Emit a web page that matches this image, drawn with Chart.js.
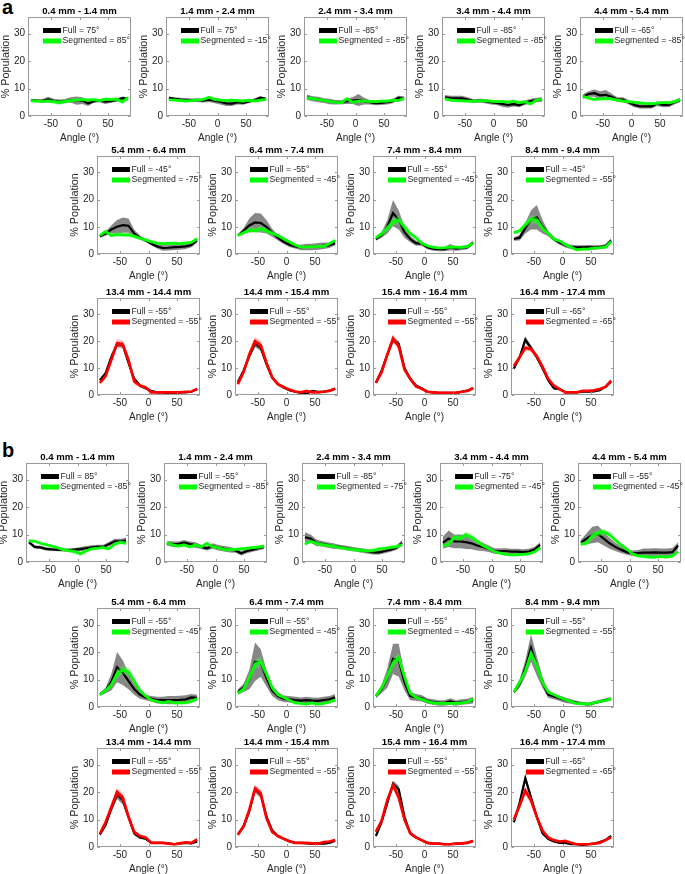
<!DOCTYPE html>
<html><head><meta charset="utf-8">
<script src="https://cdn.jsdelivr.net/npm/chart.js@4.4.0/dist/chart.umd.min.js"></script>
<style>
html,body{margin:0;padding:0;background:#fff;width:685px;height:874px;overflow:hidden;position:relative}
canvas{position:absolute}
.lab{position:absolute;font:bold 20px "Liberation Sans",Arial,sans-serif;color:#000;line-height:20px}
</style></head><body>
<div class="lab" style="left:2px;top:-3px">a</div>
<div class="lab" style="left:2px;top:440px">b</div>
<script>
// ---------- shared axes ----------
const angles = [-85,-75,-65,-55,-45,-35,-25,-15,-5,5,15,25,35,45,55,65,75,85];
const xTickValues = [-50,0,50];
const yTickValues = [0,10,20,30];
const depthTitles = ['0.4 mm - 1.4 mm','1.4 mm - 2.4 mm','2.4 mm - 3.4 mm','3.4 mm - 4.4 mm','4.4 mm - 5.4 mm',
  '5.4 mm - 6.4 mm','6.4 mm - 7.4 mm','7.4 mm - 8.4 mm','8.4 mm - 9.4 mm',
  '13.4 mm - 14.4 mm','14.4 mm - 15.4 mm','15.4 mm - 16.4 mm','16.4 mm - 17.4 mm'];

// ---------- legend peak angles ----------
const aFullPeak = [75,75,-85,-85,-65,-45,-55,-55,-45,-55,-55,-55,-65];
const aSegPeak  = [85,-15,-85,-85,-85,-75,-45,-45,-55,-55,-55,-55,-65];
const bFullPeak = [85,-55,-85,-75,-55,-55,-55,-55,-55,-55,-55,-55,-65];
const bSegPeak  = [-85,-85,-75,-45,-45,-45,-45,-45,-55,-55,-55,-55,-65];

// ---------- panel a data (mean and spread, % population) ----------
const a01_full   = [5.8,5.6,5.5,6.0,5.5,5.2,5.4,5.8,5.6,5.6,4.6,5.4,5.6,5.2,5.4,5.8,6.5,6.2];
const a01_fullSd = [0.5,0.5,0.6,1.0,0.8,0.8,0.8,1.0,1.5,1.2,1.0,0.6,0.6,0.8,0.6,0.6,0.6,0.6];
const a01_seg    = [5.6,5.4,5.3,5.4,5.2,4.9,5.3,5.6,5.8,6.0,5.8,6.0,5.6,6.1,6.0,6.1,5.1,6.7];
const a01_segSd  = [0.6,0.5,0.5,0.6,0.8,0.9,0.7,0.6,0.7,0.7,0.6,0.6,0.6,0.6,0.6,0.6,0.6,0.7];

const a02_full   = [6.6,6.2,6.0,5.9,5.8,5.8,5.6,5.9,5.6,5.2,4.6,4.5,5.0,4.8,5.3,5.8,6.7,6.2];
const a02_fullSd = [0.5,0.6,0.6,0.6,0.6,0.7,0.7,0.8,1.0,1.0,1.0,0.9,0.8,0.7,0.6,0.6,0.5,0.5];
const a02_seg    = [5.9,5.8,5.6,5.4,5.6,5.8,6.0,6.8,6.0,5.8,5.6,5.8,5.6,5.4,5.8,5.4,5.8,6.0];
const a02_segSd  = [0.5,0.5,0.5,0.5,0.5,0.5,0.5,0.5,0.5,0.5,0.5,0.5,0.5,0.5,0.5,0.5,0.5,0.5];

const a03_full   = [6.8,6.3,6.0,5.6,5.3,5.0,5.0,5.4,5.6,5.8,5.4,5.0,4.7,4.8,5.0,5.4,6.6,6.4];
const a03_fullSd = [1.0,0.9,1.0,0.9,1.0,0.8,0.7,1.0,1.2,2.2,1.2,0.8,0.8,0.8,0.8,0.8,0.8,0.8];
const a03_seg    = [6.6,6.3,6.0,5.6,5.3,5.0,4.8,6.3,5.0,5.4,5.4,5.3,5.2,5.4,5.4,5.8,5.6,6.5];
const a03_segSd  = [0.5,0.5,0.5,0.5,0.5,0.5,0.5,0.5,0.5,0.5,0.5,0.5,0.5,0.5,0.5,0.5,0.5,0.5];

const a04_full   = [6.8,6.5,6.4,6.4,6.0,5.4,5.6,5.4,5.0,4.8,4.4,4.0,4.3,4.0,4.8,5.4,5.8,6.0];
const a04_fullSd = [0.8,0.9,1.0,1.0,0.8,0.7,0.7,0.8,0.8,0.8,1.0,1.0,0.8,0.8,0.8,0.9,0.8,0.8];
const a04_seg    = [6.2,5.8,5.6,5.5,5.4,5.3,5.5,5.6,5.4,5.2,5.3,5.0,5.4,4.9,5.2,4.4,5.8,6.1];
const a04_segSd  = [0.5,0.5,0.5,0.5,0.5,0.5,0.5,0.5,0.5,0.5,0.5,0.5,0.5,0.5,0.5,0.5,0.5,0.5];

const a05_full   = [7.0,8.0,8.3,7.5,7.7,7.0,6.0,6.0,5.0,4.0,3.5,3.5,3.5,4.5,4.0,4.0,5.0,5.8];
const a05_fullSd = [0.8,1.0,1.3,1.5,1.8,1.2,0.8,0.8,0.8,0.8,0.8,0.8,0.8,0.9,0.8,0.8,0.8,0.8];
const a05_seg    = [7.2,6.5,6.0,6.2,6.3,6.2,5.8,5.4,5.2,5.0,4.8,4.6,4.5,4.6,5.0,4.8,5.2,6.0];
const a05_segSd  = [0.5,0.5,0.5,0.5,0.5,0.5,0.5,0.5,0.5,0.5,0.5,0.5,0.5,0.5,0.5,0.5,0.5,0.5];

const a06_full   = [6.5,7.5,9.0,10.0,10.6,10.4,7.5,6.0,5.0,3.8,2.8,2.2,2.3,2.5,2.6,2.8,3.3,5.0];
const a06_fullSd = [0.6,0.8,1.5,2.5,2.8,2.6,1.5,0.8,0.6,0.6,0.8,1.0,1.0,1.0,1.0,1.0,0.8,0.8];
const a06_seg    = [6.8,8.3,6.8,7.2,7.0,7.0,6.5,5.8,5.2,4.5,4.0,3.8,3.9,4.0,3.8,4.0,4.3,5.6];
const a06_segSd  = [0.5,0.5,0.6,0.8,0.8,0.8,0.8,0.6,0.5,0.5,0.5,0.5,0.5,0.5,0.5,0.5,0.5,0.6];

const a07_full   = [6.8,8.5,10.5,11.6,11.4,10.0,7.8,6.0,4.5,3.4,2.8,2.4,2.6,2.6,2.8,3.0,3.2,4.0];
const a07_fullSd = [0.5,1.0,2.5,3.5,3.5,2.5,1.5,1.0,0.8,0.8,0.8,1.0,1.2,1.2,1.2,1.2,1.0,0.8];
const a07_seg    = [6.8,7.8,8.8,8.6,9.2,8.5,7.6,6.8,5.6,4.5,3.3,2.5,2.6,2.6,2.8,2.8,3.8,5.0];
const a07_segSd  = [0.5,0.6,1.0,1.0,1.0,1.0,0.8,0.6,0.5,0.5,0.5,0.5,0.5,0.5,0.5,0.5,0.5,0.6];

const a08_full   = [5.5,7.0,10.0,15.0,12.5,8.0,5.5,4.0,3.8,2.5,2.0,1.8,1.8,2.5,2.0,2.2,2.5,4.2];
const a08_fullSd = [0.6,1.0,2.5,4.8,3.5,2.0,1.2,1.0,0.8,0.8,0.8,0.8,0.8,1.2,0.8,0.8,0.8,0.8];
const a08_seg    = [6.0,7.5,9.5,11.8,12.5,10.0,7.5,6.0,4.0,3.0,2.5,2.2,2.3,2.6,2.5,2.4,2.8,4.0];
const a08_segSd  = [0.6,0.8,1.0,1.5,1.5,1.0,0.8,0.6,0.5,0.5,0.5,0.5,0.5,0.5,0.5,0.5,0.5,0.6];

const a09_full   = [5.5,6.0,9.5,12.5,13.5,10.0,7.5,5.5,4.2,3.2,2.6,2.4,2.4,2.5,2.4,2.5,2.8,5.0];
const a09_fullSd = [0.6,1.0,2.0,3.5,4.5,2.5,1.0,0.8,0.8,0.8,0.8,0.8,0.8,0.8,0.8,0.8,0.8,0.8];
const a09_seg    = [7.8,8.5,10.8,12.8,12.4,9.5,7.5,5.5,4.8,3.5,2.5,1.5,1.8,1.8,2.2,2.3,2.5,4.5];
const a09_segSd  = [0.6,0.8,1.0,1.5,1.5,1.0,0.6,0.5,0.5,0.5,0.5,0.5,0.5,0.5,0.5,0.5,0.5,0.6];

const a10_full   = [5.5,8.0,14.0,18.8,18.6,12.0,6.0,3.5,2.5,1.5,1.0,1.0,0.6,0.5,1.0,1.0,1.2,2.2];
const a10_fullSd = [0.5,0.8,1.2,1.0,1.0,1.2,0.8,0.6,0.5,0.4,0.3,0.3,0.3,0.3,0.3,0.3,0.3,0.4];
const a10_seg    = [4.5,7.0,13.0,19.2,18.8,13.0,5.0,3.5,2.8,1.0,1.0,1.0,1.0,1.0,1.0,1.2,1.3,2.2];
const a10_segSd  = [0.5,0.8,1.0,1.5,1.5,1.5,1.0,0.6,0.5,0.3,0.3,0.3,0.3,0.3,0.3,0.3,0.3,0.4];

const a11_full   = [4.8,9.0,14.5,19.0,17.5,11.5,6.5,4.0,2.8,1.8,1.2,0.8,0.5,1.5,1.2,1.3,1.6,2.4];
const a11_fullSd = [0.5,0.8,1.2,1.2,1.2,1.0,0.6,0.5,0.4,0.3,0.3,0.3,0.3,0.3,0.3,0.3,0.3,0.4];
const a11_seg    = [4.0,8.5,15.0,20.0,18.5,12.0,6.5,4.0,3.0,2.0,1.3,1.0,1.5,1.0,1.0,1.2,1.5,2.3];
const a11_segSd  = [0.5,0.8,1.2,1.5,1.5,1.0,0.6,0.5,0.4,0.3,0.3,0.3,0.3,0.3,0.3,0.3,0.3,0.4];

const a12_full   = [4.5,9.0,15.0,20.5,19.0,10.0,6.0,3.5,2.5,1.2,1.0,0.8,0.8,0.8,0.8,1.2,1.6,2.6];
const a12_fullSd = [0.4,0.6,1.0,1.0,1.0,0.8,0.6,0.5,0.4,0.3,0.3,0.3,0.3,0.3,0.3,0.3,0.3,0.4];
const a12_seg    = [4.5,8.5,15.0,21.0,18.0,9.5,6.0,3.2,2.3,1.2,1.0,0.8,0.8,0.8,0.8,1.2,1.5,2.5];
const a12_segSd  = [0.4,0.6,1.0,1.5,1.2,1.0,0.6,0.5,0.4,0.3,0.3,0.3,0.3,0.3,0.3,0.3,0.3,0.4];

const a13_full   = [9.8,14.0,20.5,17.5,14.0,10.0,5.5,2.5,2.2,1.0,1.0,1.0,1.2,1.2,1.3,1.8,3.0,5.0];
const a13_fullSd = [0.6,0.8,1.2,1.0,0.8,0.8,0.6,0.5,0.4,0.3,0.3,0.3,0.3,0.3,0.3,0.3,0.4,0.5];
const a13_seg    = [10.8,14.0,17.5,17.0,14.5,10.5,6.0,3.5,2.2,1.0,1.0,1.0,1.5,1.5,1.7,2.2,3.0,5.3];
const a13_segSd  = [0.6,0.8,1.0,1.0,1.0,0.8,0.6,0.5,0.4,0.3,0.3,0.3,0.3,0.3,0.3,0.3,0.4,0.5];

// ---------- panel b data ----------
const b01_full   = [7.2,5.5,5.3,4.8,4.6,4.5,4.4,4.3,4.5,4.7,5.0,5.3,5.5,5.5,6.5,7.5,7.5,7.8];
const b01_fullSd = [0.6,0.6,0.6,0.6,0.6,0.6,0.6,0.6,0.6,0.8,0.8,0.8,0.8,0.8,0.8,1.0,1.0,1.0];
const b01_seg    = [7.7,7.6,6.8,6.3,5.8,5.2,4.5,4.1,3.8,3.0,4.0,4.8,5.0,5.2,4.8,6.5,7.2,6.8];
const b01_segSd  = [0.5,0.5,0.5,0.5,0.5,0.5,0.6,0.6,0.8,0.8,0.6,0.5,0.5,0.5,0.5,0.6,0.6,0.8];

const b02_full   = [6.8,6.5,6.5,7.0,6.5,6.2,5.5,5.0,5.8,5.2,4.8,4.5,4.2,3.2,4.0,4.5,5.0,5.5];
const b02_fullSd = [0.8,1.0,1.0,1.0,1.0,1.0,0.8,0.8,1.0,1.0,1.0,1.0,0.8,0.8,0.8,0.8,0.8,0.8];
const b02_seg    = [7.0,6.2,5.8,6.2,5.5,6.2,5.5,6.8,5.5,5.2,4.5,4.5,4.6,4.8,5.0,5.2,5.4,5.8];
const b02_segSd  = [0.6,0.6,0.6,0.6,0.6,0.6,0.6,0.6,0.6,0.6,0.6,0.6,0.6,0.6,0.6,0.6,0.6,0.6];

const b03_full   = [9.0,8.5,7.0,6.6,6.2,5.8,5.5,5.2,4.8,4.5,4.2,3.8,3.5,3.5,4.0,4.5,5.2,7.0];
const b03_fullSd = [1.8,1.5,1.2,1.0,1.0,1.0,0.8,0.8,0.8,0.8,0.8,0.8,0.8,0.8,0.8,0.8,0.8,1.0];
const b03_seg    = [6.5,7.5,6.8,6.3,6.0,5.8,5.2,5.0,4.6,4.4,4.2,4.0,4.2,4.8,5.0,5.3,5.6,6.3];
const b03_segSd  = [0.7,0.7,0.7,0.7,0.7,0.7,0.7,0.7,0.7,0.7,0.7,0.7,0.7,0.7,0.7,0.7,0.7,0.7];

const b04_full   = [7.0,8.5,7.5,7.5,7.2,6.8,6.0,5.5,4.8,4.0,4.0,4.0,3.8,3.8,3.6,3.8,4.5,6.2];
const b04_fullSd = [2.2,3.0,2.5,2.5,2.5,2.2,1.8,1.5,1.2,1.0,1.0,1.0,1.0,1.0,1.0,1.0,1.0,1.0];
const b04_seg    = [5.8,6.5,9.0,8.5,10.0,9.0,7.5,6.0,5.0,3.8,3.2,2.8,2.6,2.6,2.8,3.0,3.6,5.2];
const b04_segSd  = [0.6,0.8,1.0,1.0,1.0,1.0,0.8,0.6,0.5,0.5,0.5,0.5,0.5,0.5,0.5,0.5,0.5,0.6];

const b05_full   = [7.0,8.5,9.8,10.2,8.5,6.8,5.5,4.5,3.6,3.2,3.2,3.4,3.4,3.5,3.4,3.4,3.6,6.0];
const b05_fullSd = [1.0,2.0,3.0,3.0,2.5,2.0,1.5,1.2,1.0,1.0,1.2,1.5,1.5,1.5,1.5,1.5,1.5,1.2];
const b05_seg    = [6.5,6.8,9.5,10.5,11.0,10.0,8.0,6.2,4.8,3.0,2.2,2.0,1.8,1.8,2.0,1.8,2.2,3.8];
const b05_segSd  = [0.6,0.8,1.2,1.2,1.2,1.0,0.8,0.6,0.5,0.5,0.5,0.5,0.5,0.5,0.5,0.5,0.5,0.6];

const b06_full   = [4.6,6.0,9.0,14.5,12.5,9.5,6.5,4.5,3.5,3.0,2.5,2.5,2.5,2.5,2.6,2.8,3.5,3.3];
const b06_fullSd = [0.6,1.0,3.0,5.5,4.5,3.0,2.0,1.5,1.0,1.0,1.2,1.2,1.5,1.5,1.5,1.5,1.2,1.2];
const b06_seg    = [4.5,6.0,8.0,12.0,13.5,12.8,9.5,6.0,4.0,2.5,2.0,1.5,2.0,1.5,1.5,1.5,2.0,3.0];
const b06_segSd  = [0.5,0.6,1.0,1.5,1.5,1.5,1.0,0.6,0.5,0.5,0.5,0.5,0.5,0.5,0.5,0.5,0.5,0.5];

const b07_full   = [5.5,7.0,10.0,16.5,16.0,10.5,6.0,4.0,3.0,2.8,2.5,2.3,2.5,2.3,2.2,2.5,2.8,3.5];
const b07_fullSd = [1.0,1.5,3.5,7.0,5.0,3.0,2.0,1.5,1.2,1.2,1.2,1.2,1.2,1.2,1.2,1.2,1.2,1.2];
const b07_seg    = [5.0,6.5,10.5,15.5,16.5,12.0,7.0,4.5,3.5,2.5,1.5,1.3,1.0,1.5,1.0,1.3,1.8,2.5];
const b07_segSd  = [0.5,0.8,1.2,1.8,1.8,1.2,0.8,0.6,0.5,0.5,0.5,0.5,0.5,0.5,0.5,0.5,0.5,0.5];

const b08_full   = [4.0,6.5,10.5,17.5,17.0,9.0,4.0,3.5,3.2,2.2,1.8,1.5,1.5,2.0,1.5,1.8,2.0,2.5];
const b08_fullSd = [0.8,1.5,3.5,5.5,6.0,3.0,1.5,1.2,1.2,1.0,1.0,1.0,1.0,1.2,1.0,1.0,1.0,1.2];
const b08_seg    = [4.0,7.0,11.0,16.0,18.0,11.0,5.0,3.5,2.8,2.0,1.5,1.3,1.3,1.3,1.3,1.5,1.8,3.0];
const b08_segSd  = [0.5,0.8,1.2,1.5,1.5,1.2,0.8,0.5,0.5,0.5,0.5,0.5,0.5,0.5,0.5,0.5,0.5,0.5];

const b09_full   = [5.5,8.5,14.0,21.5,15.0,9.0,4.5,3.8,3.2,2.5,2.0,1.5,1.2,1.0,1.5,2.0,2.5,3.0];
const b09_fullSd = [0.8,1.5,3.0,5.0,3.5,2.0,1.2,1.0,1.0,1.0,0.8,0.8,0.6,0.6,0.6,0.6,0.6,0.6];
const b09_seg    = [5.5,9.0,13.0,19.5,15.0,9.0,5.5,4.5,3.5,2.6,2.0,1.2,1.2,1.0,1.5,2.0,2.3,3.0];
const b09_segSd  = [0.6,0.8,1.2,1.5,1.2,0.8,0.6,0.5,0.5,0.5,0.5,0.5,0.5,0.5,0.5,0.5,0.5,0.5];

const b10_full   = [4.5,8.0,14.0,19.0,17.0,11.0,5.0,3.5,3.0,1.5,1.5,1.5,1.3,1.0,1.3,1.5,1.3,2.0];
const b10_fullSd = [0.5,0.8,1.5,1.5,1.5,1.2,0.8,0.5,0.4,0.3,0.3,0.3,0.3,0.3,0.3,0.3,0.3,0.4];
const b10_seg    = [4.8,9.0,14.5,20.0,18.0,11.0,5.5,4.0,3.5,1.5,1.5,1.5,1.2,1.0,1.3,1.7,1.5,2.8];
const b10_segSd  = [0.5,0.8,1.2,1.5,1.5,1.2,0.8,0.5,0.4,0.3,0.3,0.3,0.3,0.3,0.3,0.3,0.3,0.4];

const b11_full   = [4.5,7.5,13.0,21.0,19.0,11.0,6.0,4.0,3.0,2.0,1.5,1.5,1.3,1.2,1.3,1.2,1.5,2.3];
const b11_fullSd = [0.5,0.8,1.2,1.2,1.2,1.0,0.6,0.5,0.4,0.3,0.3,0.3,0.3,0.3,0.3,0.3,0.3,0.4];
const b11_seg    = [4.5,7.5,13.5,21.2,19.5,10.5,5.5,4.0,3.0,2.2,1.5,1.5,1.5,1.3,1.2,1.8,2.0,2.5];
const b11_segSd  = [0.5,0.8,1.2,1.5,1.5,1.0,0.6,0.5,0.4,0.3,0.3,0.3,0.3,0.3,0.3,0.3,0.3,0.4];

const b12_full   = [4.0,9.0,16.0,23.0,21.0,11.0,5.0,3.5,2.5,1.5,1.2,1.2,1.0,1.0,1.2,1.3,1.6,2.2];
const b12_fullSd = [0.5,0.8,1.2,1.2,1.2,1.0,0.6,0.5,0.4,0.3,0.3,0.3,0.3,0.3,0.3,0.3,0.3,0.4];
const b12_seg    = [5.5,9.5,17.0,22.5,18.0,10.0,5.0,3.5,2.5,1.5,1.2,1.2,1.0,1.0,1.2,1.3,1.5,2.2];
const b12_segSd  = [0.5,0.8,1.2,1.5,1.5,1.0,0.6,0.5,0.4,0.3,0.3,0.3,0.3,0.3,0.3,0.3,0.3,0.4];

const b13_full   = [9.0,16.0,25.0,18.0,11.0,5.0,3.0,2.0,1.5,1.5,1.0,1.0,0.8,1.0,1.2,1.8,2.5,4.0];
const b13_fullSd = [0.8,1.2,1.5,1.2,1.0,0.6,0.5,0.4,0.3,0.3,0.3,0.3,0.3,0.3,0.3,0.3,0.4,0.5];
const b13_seg    = [10.0,15.0,20.5,17.0,11.0,6.0,3.5,2.5,2.0,2.2,1.5,1.0,1.0,1.0,1.2,1.5,2.5,3.5];
const b13_segSd  = [0.8,1.0,1.5,1.5,1.0,0.6,0.5,0.4,0.3,0.3,0.3,0.3,0.3,0.3,0.3,0.3,0.4,0.5];

const panelsA = [
  [a01_full,a01_fullSd,a01_seg,a01_segSd],[a02_full,a02_fullSd,a02_seg,a02_segSd],[a03_full,a03_fullSd,a03_seg,a03_segSd],
  [a04_full,a04_fullSd,a04_seg,a04_segSd],[a05_full,a05_fullSd,a05_seg,a05_segSd],[a06_full,a06_fullSd,a06_seg,a06_segSd],
  [a07_full,a07_fullSd,a07_seg,a07_segSd],[a08_full,a08_fullSd,a08_seg,a08_segSd],[a09_full,a09_fullSd,a09_seg,a09_segSd],
  [a10_full,a10_fullSd,a10_seg,a10_segSd],[a11_full,a11_fullSd,a11_seg,a11_segSd],[a12_full,a12_fullSd,a12_seg,a12_segSd],
  [a13_full,a13_fullSd,a13_seg,a13_segSd]];
const panelsB = [
  [b01_full,b01_fullSd,b01_seg,b01_segSd],[b02_full,b02_fullSd,b02_seg,b02_segSd],[b03_full,b03_fullSd,b03_seg,b03_segSd],
  [b04_full,b04_fullSd,b04_seg,b04_segSd],[b05_full,b05_fullSd,b05_seg,b05_segSd],[b06_full,b06_fullSd,b06_seg,b06_segSd],
  [b07_full,b07_fullSd,b07_seg,b07_segSd],[b08_full,b08_fullSd,b08_seg,b08_segSd],[b09_full,b09_fullSd,b09_seg,b09_segSd],
  [b10_full,b10_fullSd,b10_seg,b10_segSd],[b11_full,b11_fullSd,b11_seg,b11_segSd],[b12_full,b12_fullSd,b12_seg,b12_segSd],
  [b13_full,b13_fullSd,b13_seg,b13_segSd]];

// ---------- layout (plot-box positions in page pixels) ----------
const layoutA = [
  {top:17, bottom:116, cx:[79,217.5,355,493,631]},
  {top:156,bottom:254, cx:[148,286,424,562]},
  {top:298,bottom:395, cx:[148,286,424,562]}];
const layoutB = [
  {top:463,bottom:562, cx:[77,215,353,491,629]},
  {top:608,bottom:707, cx:[148,286,424,562]},
  {top:748,bottom:847, cx:[148,286,424,562]}];
const HALF_W = 51.5, Y_AXIS_W = 30, X_AXIS_H = 30, PAD_TOP = 20, PAD_RIGHT = 34;
const FONT = '"Liberation Sans", Arial, sans-serif';
const TXT = '#262626';

const deco = {
  id: 'deco',
  afterDatasetsDraw(chart, args, o) {
    const {ctx, chartArea: a, scales: {x, y}} = chart;
    ctx.save();
    ctx.strokeStyle = '#9a9a9a'; ctx.lineWidth = 1;
    const L = Math.round(a.left) + 0.5, T = Math.round(a.top) + 0.5, R = Math.round(a.right) - 0.5, B = Math.round(a.bottom) - 0.5;
    ctx.strokeRect(L, T, R - L, B - T);
    ctx.beginPath();
    xTickValues.forEach(v => { const p = Math.round(x.getPixelForValue(v)) + 0.5;
      ctx.moveTo(p, B); ctx.lineTo(p, B - 2.5); ctx.moveTo(p, T); ctx.lineTo(p, T + 2.5); });
    yTickValues.forEach(v => { const p = Math.round(y.getPixelForValue(v)) + 0.5;
      ctx.moveTo(L, p); ctx.lineTo(L + 2.5, p); ctx.moveTo(R, p); ctx.lineTo(R - 2.5, p); });
    ctx.stroke();
    // legend
    ctx.fillStyle = '#000';
    ctx.fillRect(a.left + 15, a.top + 11, 18, 5);
    ctx.fillStyle = o.segColor;
    ctx.fillRect(a.left + 15, a.top + 21.5, 18, 5);
    ctx.fillStyle = TXT; ctx.font = '8.7px ' + FONT; ctx.textAlign = 'left'; ctx.textBaseline = 'middle';
    ctx.fillText(o.fullLabel, a.left + 34.5, a.top + 13.5);
    ctx.fillText(o.segLabel, a.left + 34.5, a.top + 24);
    // title
    ctx.fillStyle = '#000'; ctx.font = 'bold 9.6px ' + FONT; ctx.textAlign = 'center';
    ctx.fillText(o.title, (a.left + a.right) / 2, a.top - 5.5);
    ctx.restore();
  }
};

function pts(mean, sd, sign) { return angles.map((ang, i) => ({x: ang, y: mean[i] + sign * sd[i]})); }

function makePanel(pos, top, bottom, data, title, fullPk, segPk, segColor, segBand) {
  const [full, fullSd, seg, segSd] = data;
  const cv = document.createElement('canvas');
  const W = Y_AXIS_W + 2 * HALF_W + PAD_RIGHT, H = PAD_TOP + (bottom - top) + X_AXIS_H;
  cv.width = W; cv.height = H;
  cv.style.left = Math.round(pos - HALF_W - Y_AXIS_W) + 'px';
  cv.style.top = (top - PAD_TOP) + 'px';
  document.body.appendChild(cv);
  const base = {pointRadius: 0, tension: 0, fill: false};
  new Chart(cv, {
    type: 'line',
    data: {datasets: [
      {...base, data: pts(full, fullSd, 1), fill: '+1', backgroundColor: 'rgba(125,125,125,0.92)', borderWidth: 0, borderColor: 'transparent', order: 4},
      {...base, data: pts(full, fullSd, -1), borderWidth: 0, borderColor: 'transparent', order: 4},
      {...base, data: pts(full, fullSd, 0), borderColor: '#000', borderWidth: 2.2, order: 3},
      {...base, data: pts(seg, segSd, 1), fill: '+1', backgroundColor: segBand, borderWidth: 0, borderColor: 'transparent', order: 2},
      {...base, data: pts(seg, segSd, -1), borderWidth: 0, borderColor: 'transparent', order: 2},
      {...base, data: pts(seg, segSd, 0), borderColor: segColor, borderWidth: 2.7, order: 1}
    ]},
    options: {
      responsive: false, animation: false, events: [],
      layout: {padding: {left: 0, right: PAD_RIGHT, top: PAD_TOP, bottom: 0}},
      plugins: {legend: {display: false}, title: {display: false}, tooltip: {enabled: false},
        deco: {title, fullLabel: 'Full = ' + fullPk + '°', segLabel: 'Segmented = ' + segPk + '°', segColor}},
      scales: {
        x: {type: 'linear', min: -90, max: 90,
          afterBuildTicks: s => { s.ticks = xTickValues.map(v => ({value: v})); },
          afterFit: s => { s.height = X_AXIS_H; },
          grid: {display: false, drawTicks: false}, border: {display: false},
          ticks: {padding: 2, color: TXT, font: {family: FONT, size: 10}},
          title: {display: true, text: 'Angle (°)', color: TXT, padding: {top: 0, bottom: 1.5}, font: {family: FONT, size: 10}}},
        y: {type: 'linear', min: 0, max: 36,
          afterBuildTicks: s => { s.ticks = yTickValues.map(v => ({value: v})); },
          afterFit: s => { s.width = Y_AXIS_W; },
          grid: {display: false, drawTicks: false}, border: {display: false},
          ticks: {padding: 3, color: TXT, font: {family: FONT, size: 10}},
          title: {display: true, text: '% Population', color: TXT, padding: {top: 1.5, bottom: 0}, font: {family: FONT, size: 10.8}}}
      }
    },
    plugins: [deco]
  });
}

function buildSection(layout, panels, fullPeaks, segPeaks) {
  let k = 0;
  layout.forEach((row, r) => {
    row.cx.forEach(cx => {
      const red = r === 2;
      makePanel(cx, row.top, row.bottom, panels[k], depthTitles[k], fullPeaks[k], segPeaks[k],
        red ? '#ff0000' : '#00ff00', red ? 'rgba(255,60,60,0.35)' : 'rgba(60,255,60,0.38)');
      k++;
    });
  });
}
buildSection(layoutA, panelsA, aFullPeak, aSegPeak);
buildSection(layoutB, panelsB, bFullPeak, bSegPeak);
</script>
</body></html>
